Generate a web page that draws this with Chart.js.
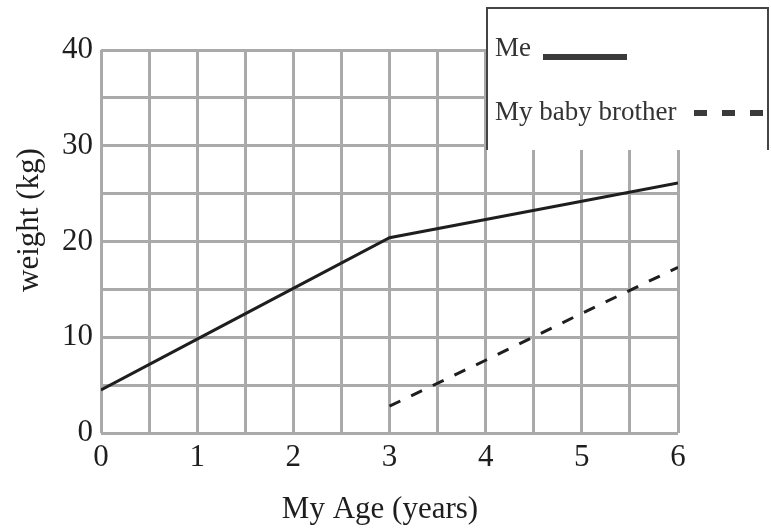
<!DOCTYPE html>
<html>
<head>
<meta charset="utf-8">
<script src="https://cdn.jsdelivr.net/npm/chart.js@4/dist/chart.umd.min.js"></script>
<style>
  html, body { margin: 0; padding: 0; background: #fff; }
  #wrap { width: 771px; height: 529px; position: relative; }
</style>
</head>
<body>
<div id="wrap"><canvas id="c" width="771" height="529"></canvas></div>
<script>
const ages = [0, 1, 2, 3, 4, 5, 6];
const meWeight = [4.5, 9.8, 15.1, 20.4, 22.3, 24.2, 26.1];
const brotherWeight = [null, null, null, 2.8, 7.6, 12.5, 17.3];
const seriesNames = ['Me', 'My baby brother'];
const xTitle = 'My Age (years)';
const yTitle = 'weight (kg)';

const FONT = '"Liberation Serif", "Times New Roman", serif';
const INK = '#1e1e1e';
const GRID = '#aaaaaa';

function pts(vals) {
  return ages.map((a, i) => ({ x: a, y: vals[i] })).filter(p => p.y !== null);
}

const extras = {
  id: 'extras',
  afterDraw(chart) {
    const ctx = chart.ctx;
    ctx.save();
    // axis titles
    ctx.fillStyle = INK;
    ctx.font = '31px ' + FONT;
    ctx.textAlign = 'center';
    ctx.textBaseline = 'alphabetic';
    ctx.fillText(xTitle, 380, 518);
    ctx.save();
    ctx.translate(38, 220);
    ctx.rotate(-Math.PI / 2);
    ctx.fillText(yTitle, 0, 0);
    ctx.restore();

    // legend box
    const x0 = 487, y0 = 8, x1 = 768, y1 = 150;
    ctx.fillStyle = '#ffffff';
    ctx.fillRect(x0, y0, x1 - x0, y1 - y0);
    ctx.strokeStyle = '#444444';
    ctx.lineWidth = 2;
    ctx.beginPath();
    ctx.moveTo(x0, y1); ctx.lineTo(x0, y0); ctx.lineTo(x1, y0); ctx.lineTo(x1, y1);
    ctx.stroke();
    ctx.fillStyle = '#333333';
    ctx.font = '27px ' + FONT;
    ctx.textAlign = 'left';
    ctx.fillText(seriesNames[0], 495, 56);
    ctx.fillText(seriesNames[1], 495, 120);
    ctx.strokeStyle = '#3a3a3a';
    ctx.lineWidth = 6;
    ctx.beginPath(); ctx.moveTo(543, 57); ctx.lineTo(627, 57); ctx.stroke();
    ctx.setLineDash([13, 15]);
    ctx.beginPath(); ctx.moveTo(694, 113); ctx.lineTo(766, 113); ctx.stroke();
    ctx.restore();
  }
};

new Chart(document.getElementById('c'), {
  type: 'line',
  data: {
    datasets: [
      { label: seriesNames[0], data: pts(meWeight), borderColor: INK, borderWidth: 3,
        pointRadius: 0, tension: 0, fill: false },
      { label: seriesNames[1], data: pts(brotherWeight), borderColor: INK, borderWidth: 3,
        borderDash: [12, 12], pointRadius: 0, tension: 0, fill: false }
    ]
  },
  options: {
    responsive: false,
    animation: false,
    devicePixelRatio: 1,
    layout: { padding: { left: 0, right: 93, top: 50, bottom: 0 } },
    plugins: { legend: { display: false }, tooltip: { enabled: false } },
    scales: {
      x: {
        type: 'linear', min: 0, max: 6,
        grid: { color: GRID, lineWidth: 3, drawTicks: false },
        border: { display: false },
        ticks: { stepSize: 0.5, padding: 6, color: INK, font: { family: FONT, size: 31 },
          maxRotation: 0, autoSkip: false,
          callback: v => Number.isInteger(v) ? String(v) : '' },
        afterFit: s => { s.height = 96; }
      },
      y: {
        min: 0, max: 40,
        grid: { color: GRID, lineWidth: 3, drawTicks: false },
        border: { display: false },
        ticks: { stepSize: 5, padding: 8, color: INK, font: { family: FONT, size: 31 },
          autoSkip: false,
          callback: v => (v % 10 === 0) ? String(v) : '' },
        afterFit: s => { s.width = 101; }
      }
    }
  },
  plugins: [extras]
});
</script>
</body>
</html>
